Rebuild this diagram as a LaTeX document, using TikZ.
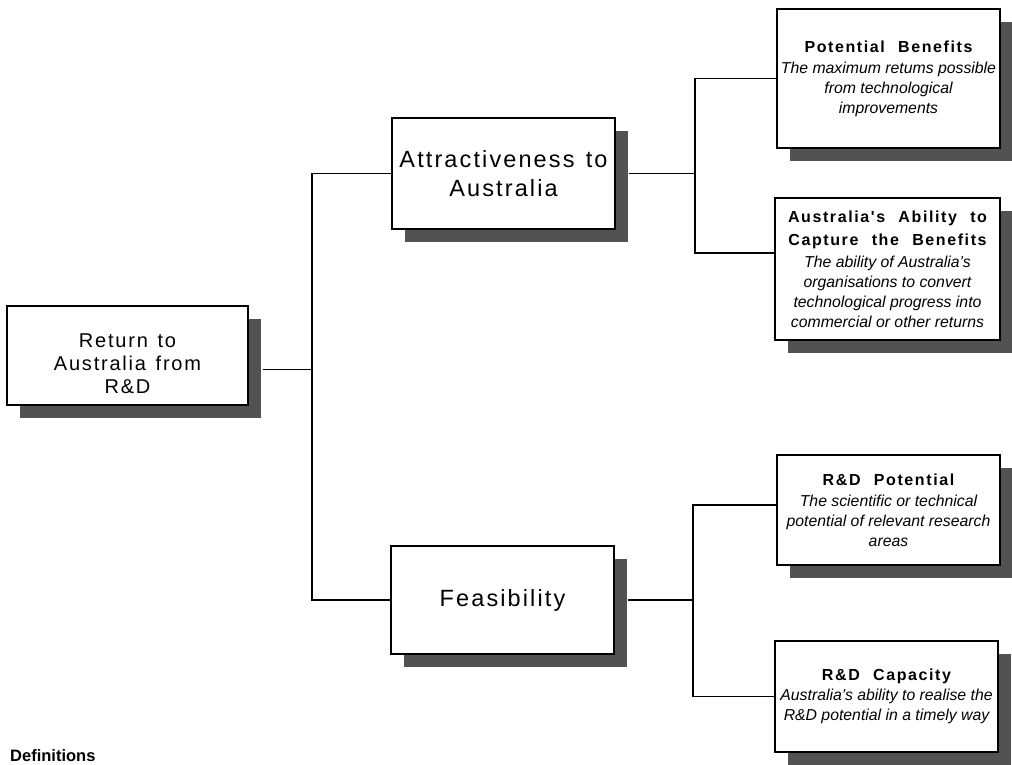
\documentclass[tikz,border=0pt]{standalone}
\usepackage{fontspec}
\setmainfont{Liberation Sans}
\newfontfamily\ttlfont[LetterSpace=10,WordSpace=2.2]{Liberation Sans}
\newfontfamily\bigfont[LetterSpace=9,WordSpace=1.3]{Liberation Sans}
\usetikzlibrary{shadows}
\newcommand{\leaftitle}[1]{{\ttlfont\bfseries\upshape\fontsize{16}{23}\selectfont #1}}

\begin{document}
\begin{tikzpicture}[x=1pt,y=-1pt,
  mainbox/.style={draw,line width=1.4pt,fill=white,inner sep=0pt,align=center,
    drop shadow={shadow xshift=13pt,shadow yshift=-13pt,fill=black!68,opacity=1}},
  topbox/.style={mainbox,minimum width=223pt,font=\bigfont\fontsize{23.5}{29}\selectfont},
  leafbox/.style={mainbox,minimum width=223pt,font=\itshape\fontsize{15.8}{20}\selectfont},
  link/.style={line width=1.2pt}
]
  \useasboundingbox (0,0) rectangle (1012,764);

  % Root
  \node[mainbox,minimum width=241pt,minimum height=99pt,
    font=\bigfont\fontsize{20}{23}\selectfont] (root) at (127.5,355.5) {\rule{0pt}{30pt}Return to\\Australia from\\R\&D};

  % Second level
  \node[topbox,minimum height=111pt] (attr) at (503.5,173.5) {Attractiveness to\\Australia};
  \node[topbox,minimum height=108pt] (feas) at (502.5,600) {Feasibility};

  % Leaves
  \node[leafbox,minimum height=139pt] (pben) at (888.5,78.5)
    {\leaftitle{Potential Benefits}\\[1pt]The maximum retums possible\\from technological\\improvements};
  \node[leafbox,minimum width=225pt,minimum height=142pt] (abil) at (887.5,269)
    {\leaftitle{Australia's Ability to}\\[3pt]\leaftitle{Capture the Benefits}\\[2pt]The ability of Australia's\\
     organisations to convert\\technological progress into\\commercial or other returns};
  \node[leafbox,minimum height=110pt] (rdp) at (888.5,510)
    {\leaftitle{R\&D Potential}\\[1pt]The scientific or technical\\potential of relevant research\\areas};
  \node[leafbox,minimum height=111pt] (rdc) at (886.5,696.5)
    {\leaftitle{R\&D Capacity}\\Australia's ability to realise the\\R\&D potential in a timely way};

  % Junctions
  \coordinate (jL) at (312,369.5);
  \coordinate (jA) at (695,173.5);
  \coordinate (jF) at (693,600);

  % Connectors
  \draw[link] ([xshift=14pt,yshift=-14pt]root.east) -- (jL);
  \draw[link] (attr.west) -| (jL) |- (feas.west);
  \draw[link] ([xshift=13pt]attr.east) -- (jA);
  \draw[link] (pben.west) -| (jA) |- ([yshift=16pt]abil.west);
  \draw[link] ([xshift=13pt]feas.east) -- (jF);
  \draw[link] ([yshift=5pt]rdp.west) -| (jF) |- (rdc.west);

  % Footer
  \node[font=\bfseries\fontsize{16.5}{18}\selectfont,anchor=base west,inner sep=0pt] (defs) at (10,761) {Definitions};
\end{tikzpicture}
\end{document}
